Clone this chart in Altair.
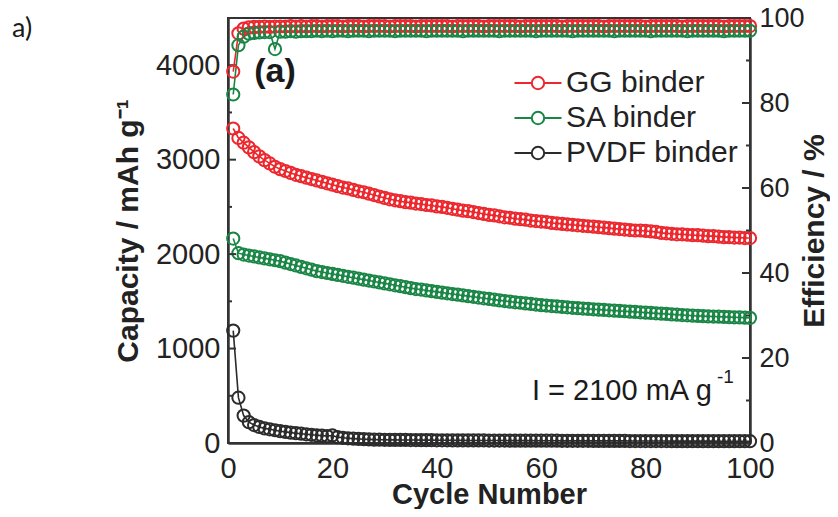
import altair as alt
import pandas as pd

cycles = list(range(1, 101))
binders = ["GG binder", "SA binder", "PVDF binder"]
colors = ["#ec272d", "#1a8646", "#2b2b2b"]

gg_capacity = [
    3330, 3230, 3180, 3130, 3080, 3035, 2995, 2960, 2925, 2900,
    2880, 2860, 2840, 2825, 2810, 2795, 2780, 2765, 2750, 2735,
    2720, 2705, 2695, 2680, 2665, 2655, 2640, 2625, 2610, 2595,
    2580, 2570, 2560, 2550, 2545, 2535, 2530, 2520, 2515, 2505,
    2500, 2490, 2480, 2470, 2460, 2455, 2445, 2435, 2425, 2415,
    2410, 2400, 2390, 2385, 2375, 2370, 2365, 2355, 2350, 2345,
    2340, 2330, 2325, 2320, 2315, 2310, 2305, 2300, 2295, 2290,
    2285, 2280, 2275, 2270, 2265, 2260, 2255, 2250, 2250, 2245,
    2240, 2235, 2225, 2220, 2215, 2210, 2210, 2205, 2200, 2200,
    2195, 2190, 2190, 2185, 2180, 2180, 2175, 2175, 2170, 2170,
]
sa_capacity = [
    2165, 2010, 1995, 1985, 1975, 1965, 1955, 1945, 1935, 1925,
    1910, 1895, 1880, 1865, 1850, 1835, 1820, 1810, 1800, 1790,
    1780, 1770, 1760, 1750, 1740, 1730, 1720, 1710, 1700, 1690,
    1680, 1670, 1660, 1650, 1640, 1630, 1625, 1615, 1608, 1600,
    1592, 1585, 1577, 1570, 1562, 1555, 1548, 1540, 1532, 1525,
    1518, 1510, 1503, 1497, 1490, 1485, 1478, 1472, 1466, 1460,
    1455, 1450, 1446, 1441, 1437, 1432, 1428, 1424, 1420, 1416,
    1412, 1409, 1405, 1402, 1398, 1395, 1391, 1388, 1384, 1380,
    1377, 1373, 1370, 1366, 1362, 1358, 1355, 1352, 1348, 1345,
    1343, 1341, 1339, 1337, 1335, 1333, 1331, 1329, 1327, 1325,
]
pvdf_capacity = [
    1190, 480, 290, 220, 190, 170, 155, 145, 135, 125,
    118, 110, 104, 98, 92, 87, 82, 78, 74, 80,
    62, 55, 50, 46, 43, 40, 38, 36, 35, 34,
    33, 33, 32, 32, 31, 31, 30, 30, 30, 29,
    29, 29, 28, 28, 28, 27, 27, 27, 27, 26,
    26, 26, 26, 25, 25, 25, 25, 25, 24, 24,
    24, 24, 24, 23, 23, 23, 23, 23, 23, 22,
    22, 22, 22, 22, 22, 22, 21, 21, 21, 21,
    21, 21, 21, 21, 20, 20, 20, 20, 20, 20,
    20, 20, 20, 19, 19, 19, 19, 19, 19, 19,
]
gg_efficiency = [
    87.4, 96.4, 97.5, 97.8, 97.9, 97.9, 98.0, 97.9, 98.0, 98.0,
    98.0, 98.1, 98.0, 98.1, 98.0, 98.1, 98.1, 98.0, 98.1, 98.1,
    98.1, 98.0, 98.1, 98.1, 98.1, 98.0, 98.1, 98.1, 98.1, 98.1,
    98.0, 98.1, 98.1, 98.1, 98.1, 98.0, 98.1, 98.1, 98.1, 98.1,
    98.1, 98.1, 98.0, 98.1, 98.1, 98.1, 98.1, 98.1, 98.0, 98.1,
    98.1, 98.1, 98.1, 98.1, 98.1, 98.0, 98.1, 98.1, 98.1, 98.1,
    98.1, 98.1, 98.1, 98.0, 98.1, 98.1, 98.1, 98.1, 98.1, 98.1,
    98.1, 98.0, 98.1, 98.1, 98.1, 98.1, 98.1, 98.1, 98.1, 98.0,
    98.1, 98.1, 98.1, 98.1, 98.1, 98.1, 98.0, 98.1, 98.1, 98.1,
    98.1, 98.1, 98.1, 98.1, 98.0, 98.1, 98.1, 98.1, 98.1, 98.1,
]
sa_efficiency = [
    82.0, 93.6, 95.6, 96.3, 96.5, 96.6, 96.7, 96.7, 92.7, 96.8,
    96.8, 96.9, 96.8, 96.9, 96.9, 96.9, 97.0, 96.9, 97.0, 96.9,
    97.0, 97.0, 96.9, 97.0, 97.0, 97.0, 96.9, 97.0, 97.0, 97.0,
    97.0, 96.9, 97.0, 97.0, 97.0, 97.0, 97.0, 96.9, 97.0, 97.0,
    97.0, 97.0, 97.0, 97.0, 96.9, 97.0, 97.0, 97.0, 97.0, 97.0,
    97.0, 96.9, 97.0, 97.0, 97.0, 97.0, 97.0, 97.0, 96.9, 97.0,
    97.0, 97.0, 97.0, 97.0, 97.0, 96.9, 97.0, 97.0, 97.0, 97.0,
    97.0, 97.0, 97.0, 96.9, 97.0, 97.0, 97.0, 97.0, 97.0, 97.0,
    96.9, 97.0, 97.0, 97.0, 97.0, 97.0, 97.0, 96.9, 97.0, 97.0,
    97.0, 97.0, 97.0, 97.0, 96.9, 97.0, 97.0, 97.0, 97.0, 97.0,
]

x_ticks = [0, 20, 40, 60, 80, 100]
left_ticks = [0, 1000, 2000, 3000, 4000]
left_major_marks = [1000, 2000, 3000, 4000]
left_minor_marks = [500, 1500, 2500, 3500]
right_ticks = [0, 20, 40, 60, 80, 100]
right_major_marks = [20, 40, 60, 80]
right_minor_marks = [10, 30, 50, 70, 90]

panel_label = ["a)"]
inset_label = ["(a)"]
current_text = ["I = 2100 mA g"]
current_sup = ["-1"]

W, H = 522, 425
FONT = "Liberation Sans"

cap_df = pd.DataFrame({
    "Cycle": cycles * 3,
    "Binder": [binders[0]] * 100 + [binders[1]] * 100 + [binders[2]] * 100,
    "Capacity": gg_capacity + sa_capacity + pvdf_capacity,
})
eff_df = pd.DataFrame({
    "Cycle": cycles * 2,
    "Binder": [binders[0]] * 100 + [binders[1]] * 100,
    "Efficiency": gg_efficiency + sa_efficiency,
})

xscale = alt.Scale(domain=[0, 100], nice=False)
cap_scale = alt.Scale(domain=[0, 4500], nice=False)
eff_scale = alt.Scale(domain=[0, 100], nice=False)
color_scale = alt.Scale(domain=binders, range=colors)

left_axis = alt.Axis(values=left_ticks, format="d", title="Capacity / mAh g\u207b\u00b9", orient="left",
                     labelPadding=8, titlePadding=12, labelFlush=False)
right_axis = alt.Axis(values=right_ticks, format="d", title="Efficiency / %", orient="right",
                      labelPadding=9, titlePadding=-5, titleAngle=270, titleBaseline="top",
                      labelFlush=False, labelFontSize=27)

legend_path = "M-2.35,0L-0.62,0M0.62,0L2.35,0M-0.62,0A0.62,0.62,0,1,0,0.62,0A0.62,0.62,0,1,0,-0.62,0"

point_def = alt.OverlayMarkDef(filled=False, size=150, strokeWidth=2)

cap_lines = alt.Chart(cap_df).mark_line(point=point_def, strokeWidth=1.6).encode(
    x=alt.X("Cycle:Q", scale=xscale,
            axis=alt.Axis(values=x_ticks, format="d", title="Cycle Number", labelPadding=11,
                          titlePadding=-3, labelFlush=False, titleFontSize=29)),
    y=alt.Y("Capacity:Q", scale=cap_scale, axis=left_axis),
    color=alt.Color("Binder:N", scale=color_scale, sort=binders,
                    legend=alt.Legend(orient="none", legendX=295, legendY=50, title=None,
                                      symbolType=legend_path, symbolSize=400, symbolStrokeWidth=2,
                                      symbolFillColor="white", labelFont=FONT, labelFontSize=30,
                                      labelColor="#222", labelOffset=13, rowPadding=5, padding=0,
                                      labelLimit=400)),
    order=alt.Order("Cycle:Q"),
)

def tick_rules(values, field_scale, axis, x0, x1):
    df = pd.DataFrame({"v": values})
    return alt.Chart(df).mark_rule(color="#333", strokeWidth=2).encode(
        y=alt.Y("v:Q", scale=field_scale, axis=axis),
        x=alt.value(x0), x2=alt.value(x1),
    )

left_major = tick_rules(left_major_marks, cap_scale, left_axis, 0, 8)
left_minor = tick_rules(left_minor_marks, cap_scale, left_axis, 0, 4)

def text_layer(values, x, y, size, weight="normal", font=FONT, align="left"):
    df = pd.DataFrame({"t": values})
    return alt.Chart(df).mark_text(font=font, fontSize=size, fontWeight=weight, align=align,
                                   baseline="middle", color="#1a1a1a").encode(
        text="t:N", x=alt.value(x), y=alt.value(y))

panel = text_layer(panel_label, -216, 11, 27, font="Lato")
inset = text_layer(inset_label, 47, 54, 34, weight="bold", align="center")
cur = text_layer(current_text, 304, 373, 29)
cur_sup = text_layer(current_sup, 489, 359, 19)

cap_layer = alt.layer(cap_lines, left_major, left_minor, panel, inset, cur, cur_sup)

eff_lines = alt.Chart(eff_df).mark_line(point=point_def, strokeWidth=1.6).encode(
    x=alt.X("Cycle:Q", scale=xscale),
    y=alt.Y("Efficiency:Q", scale=eff_scale, axis=right_axis),
    color=alt.Color("Binder:N", scale=color_scale, legend=None),
    order=alt.Order("Cycle:Q"),
)
right_major = tick_rules(right_major_marks, eff_scale, right_axis, W - 8, W)
right_minor = tick_rules(right_minor_marks, eff_scale, right_axis, W - 4, W)

eff_layer = alt.layer(eff_lines, right_major, right_minor)

chart = alt.layer(cap_layer, eff_layer).resolve_scale(y="independent").properties(
    width=W, height=H,
    padding={"left": 220, "top": 10, "right": 80, "bottom": 66},
    autosize=alt.AutoSizeParams(type="none"),
).configure_view(
    stroke="#333", strokeWidth=2
).configure_axis(
    labelFont=FONT, labelFontSize=29, labelColor="#222",
    titleFont=FONT, titleFontSize=30, titleFontWeight="bold", titleColor="#222",
    domainColor="#333", domainWidth=2.5, ticks=False, grid=False,
)

chart.save("out.html", embed_options={"renderer": "svg", "actions": False})
